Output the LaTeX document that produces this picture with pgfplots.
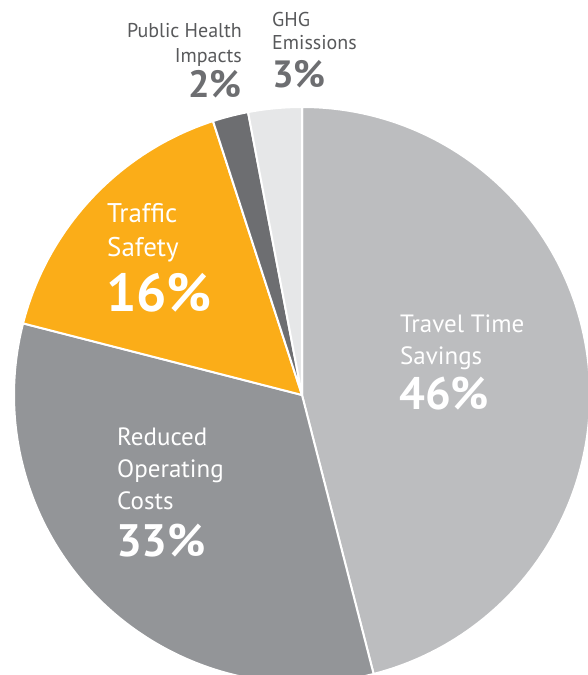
\documentclass[border=0pt]{standalone}
\usepackage{pgfplots}
\pgfplotsset{compat=1.18}
\usepackage{fontspec}
\setmainfont{PT Sans}
\definecolor{cTravel}{HTML}{BCBDBF}
\definecolor{cCost}{HTML}{939598}
\definecolor{cSafety}{HTML}{FBAD18}
\definecolor{cHealth}{HTML}{6D6E71}
\definecolor{cGHG}{HTML}{E6E7E8}
\definecolor{cText}{HTML}{58595B}
% slice: #1 cumulative percent before, #2 value percent, #3 colour
\newcommand{\slice}[3]{%
  \pgfmathsetmacro\sa{90-3.6*#1}%
  \pgfmathsetmacro\ea{90-3.6*(#1+#2)}%
  \edef\doslice{\noexpand\fill[#3,draw=white,line width=2pt,line join=round] (axis cs:302,280) -- (axis cs:{302+288*cos(\sa)},{280+288*sin(\sa)}) arc[start angle=\sa,end angle=\ea,radius=288pt] -- cycle;}%
  \doslice
}
\begin{document}
\begin{tikzpicture}
\begin{axis}[x=1pt,y=1pt,xmin=0,xmax=588,ymin=0,ymax=675,hide axis,clip=true,
  enlargelimits=false]
\addplot[draw=none] coordinates {(0,0) (588,675)};
% values: 46, 33, 16, 2, 3 (percent)
\slice{0}{46}{cTravel}
\slice{46}{33}{cCost}
\slice{79}{16}{cSafety}
\slice{95}{2}{cHealth}
\slice{97}{3}{cGHG}
\node[anchor=base west,inner sep=0pt,text=white,font=\fontsize{25}{28}\selectfont] at (axis cs:400,342) {Travel Time};
\node[anchor=base west,inner sep=0pt,text=white,font=\fontsize{25}{28}\selectfont] at (axis cs:400,310) {Savings};
\node[anchor=base west,inner sep=0pt,text=white,font=\fontsize{45.5}{48}\selectfont\bfseries] at (axis cs:399,265) {46\%};
\node[anchor=base west,inner sep=0pt,text=white,font=\fontsize{25}{28}\selectfont] at (axis cs:117,229) {Reduced};
\node[anchor=base west,inner sep=0pt,text=white,font=\fontsize{25}{28}\selectfont] at (axis cs:117,197) {Operating};
\node[anchor=base west,inner sep=0pt,text=white,font=\fontsize{25}{28}\selectfont] at (axis cs:117,165) {Costs};
\node[anchor=base west,inner sep=0pt,text=white,font=\fontsize{45.5}{48}\selectfont\bfseries] at (axis cs:116,118) {33\%};
\node[anchor=base west,inner sep=0pt,text=white,font=\fontsize{27}{30}\selectfont] at (axis cs:107,452) {Traffic};
\node[anchor=base west,inner sep=0pt,text=white,font=\fontsize{53.5}{56}\selectfont\bfseries] at (axis cs:106,363) {16\%};
\node[anchor=base west,inner sep=0pt,text=white,font=\fontsize{27}{30}\selectfont] at (axis cs:107,418) {Safety};
\node[anchor=base east,inner sep=0pt,text=cText,font=\fontsize{20}{22}\selectfont] at (axis cs:242,637) {Public Health};
\node[anchor=base east,inner sep=0pt,text=cText,font=\fontsize{20}{22}\selectfont] at (axis cs:242,612) {Impacts};
\node[anchor=base east,inner sep=0pt,text=cHealth,font=\fontsize{38}{42}\selectfont\bfseries] at (axis cs:242,577) {2\%};
\node[anchor=base west,inner sep=0pt,text=cText,font=\fontsize{20}{22}\selectfont] at (axis cs:272,648) {GHG};
\node[anchor=base west,inner sep=0pt,text=cText,font=\fontsize{20}{22}\selectfont] at (axis cs:272,625) {Emissions};
\node[anchor=base west,inner sep=0pt,text=cHealth,font=\fontsize{38}{42}\selectfont\bfseries] at (axis cs:272,587) {3\%};
\end{axis}
\end{tikzpicture}
\end{document}
